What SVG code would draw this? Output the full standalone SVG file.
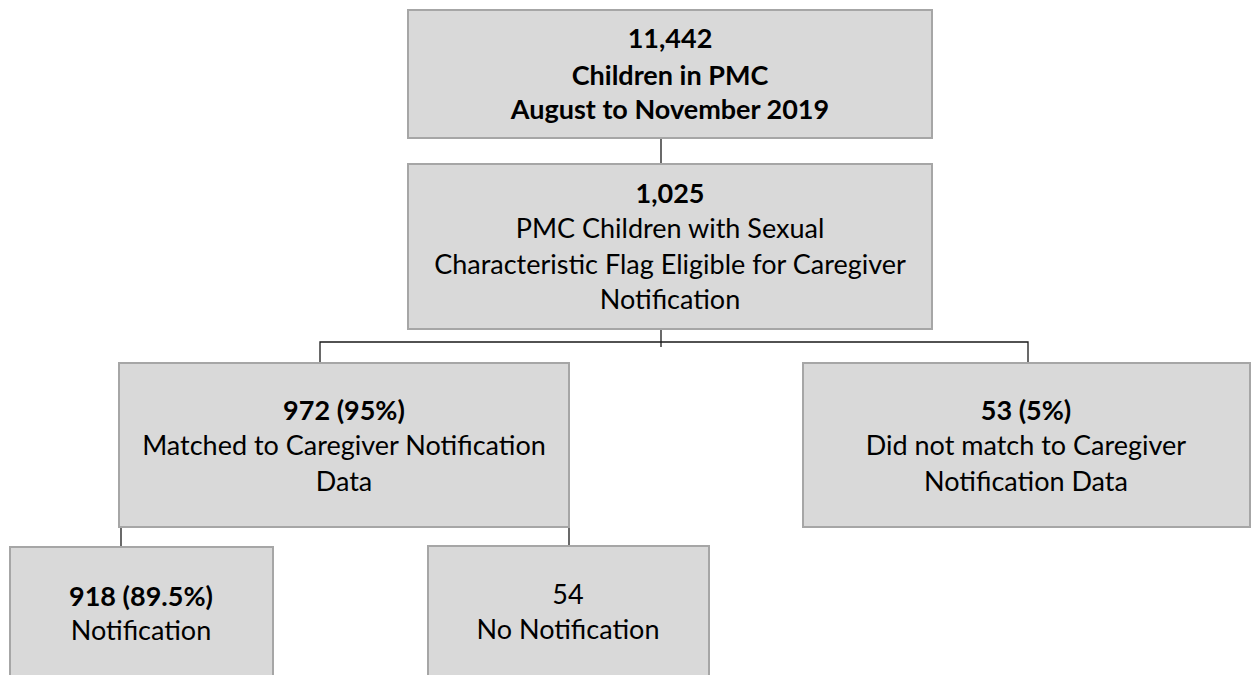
<svg xmlns="http://www.w3.org/2000/svg" width="1254" height="675" viewBox="0 0 1254 675">
<style>
.box{fill:#d9d9d9;stroke:#a6a6a6;stroke-width:2}
.t{font-family:Lato,"Open Sans","Liberation Sans",sans-serif;font-size:27px;fill:#000;text-anchor:middle}
.b{font-weight:bold}
.c{stroke:#1a1a1a;stroke-width:1.3;fill:none}
</style>
<rect width="1254" height="675" fill="#fff"/>
<g id="connectors">
<path class="c" d="M661 138V164"/>
<path class="c" d="M661 329V347"/>
<path class="c" d="M320 363V342H1028V363"/>
<path class="c" d="M121 527V547"/>
<path class="c" d="M569 527V546"/>
</g>
<g id="n1">
<rect class="box" x="408" y="10" width="524" height="128"/>
<text class="t b" x="670" y="48">11,442</text>
<text class="t b" x="670" y="85">Children in PMC</text>
<text class="t b" x="670" y="119">August to November 2019</text>
</g>
<g id="n2">
<rect class="box" x="408" y="164" width="524" height="165"/>
<text class="t b" x="670" y="203">1,025</text>
<text class="t" x="670" y="238">PMC Children with Sexual</text>
<text class="t" x="670" y="274">Characteristic Flag Eligible for Caregiver</text>
<text class="t" x="670" y="309">Notification</text>
</g>
<g id="n3">
<rect class="box" x="119" y="363" width="450" height="164"/>
<text class="t b" x="344" y="420">972 (95%)</text>
<text class="t" x="344" y="455">Matched to Caregiver Notification</text>
<text class="t" x="344" y="491">Data</text>
</g>
<g id="n4">
<rect class="box" x="803" y="363" width="447" height="164"/>
<text class="t b" x="1026" y="420">53 (5%)</text>
<text class="t" x="1026" y="455">Did not match to Caregiver</text>
<text class="t" x="1026" y="491">Notification Data</text>
</g>
<g id="n5">
<rect class="box" x="10" y="547" width="263" height="140"/>
<text class="t b" x="141" y="606">918 (89.5%)</text>
<text class="t" x="141" y="640">Notification</text>
</g>
<g id="n6">
<rect class="box" x="428" y="546" width="281" height="140"/>
<text class="t" x="568" y="604">54</text>
<text class="t" x="568" y="639">No Notification</text>
</g>
</svg>
